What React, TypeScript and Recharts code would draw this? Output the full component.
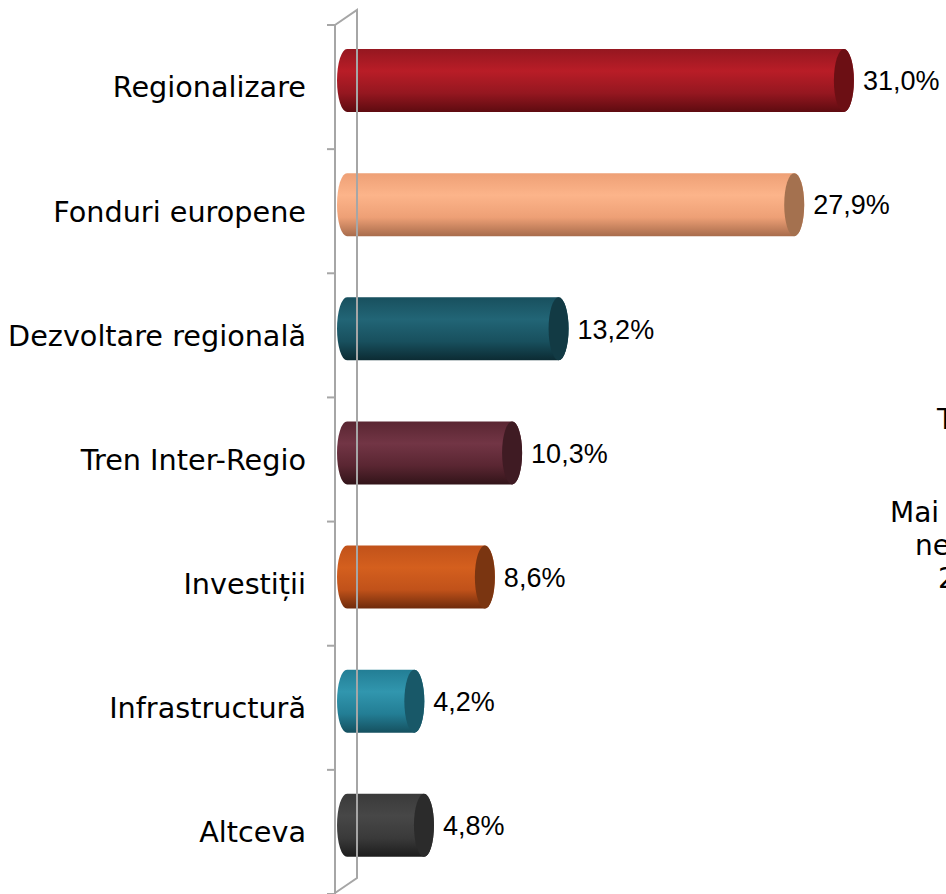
import React from "react";
import { BarChart, Bar, XAxis, YAxis, LabelList } from "recharts";

const categories = [
  "Regionalizare",
  "Fonduri europene",
  "Dezvoltare regională",
  "Tren Inter-Regio",
  "Investiții",
  "Infrastructură",
  "Altceva",
];
const values = [31.0, 27.9, 13.2, 10.3, 8.6, 4.2, 4.8];
const valueLabels = ["31,0%", "27,9%", "13,2%", "10,3%", "8,6%", "4,2%", "4,8%"];

// [top, middle highlight, bottom, end cap]
const palette = [
  ["#951720", "#b91d27", "#5e0b10", "#6c0f14"],
  ["#eea076", "#fcb48a", "#a86c4c", "#a4714f"],
  ["#18505e", "#226576", "#0c2b33", "#123a44"],
  ["#5a2632", "#723545", "#321419", "#3f1b23"],
  ["#c1521a", "#d45f1e", "#6e2b0c", "#7a3511"],
  ["#237e95", "#3196ae", "#15505f", "#185868"],
  ["#3a3a3a", "#474747", "#1d1d1d", "#2b2b2b"],
];

const data = categories.map((name, i) => ({
  name,
  value: values[i],
  label: valueLabels[i],
  idx: i,
}));

const W = 946;
const H = 894;
const TOP = 25;
const AXIS_X = 335;
const STEP = (H - TOP) / categories.length;
const LIFT = 7; // bars sit a bit deeper in the 3d frame
const CAP = 10;

const Cylinder = (props: any) => {
  const { x, y, width, height, payload } = props;
  const i = payload.idx;
  const yy = y - LIFT;
  const w = Math.max(width, 0);
  const ry = height / 2;
  const id = `g${i}`;
  const d = `M${x},${yy} L${x + w},${yy} A${CAP},${ry} 0 0 1 ${x + w},${yy + height} L${x},${yy + height} A${CAP},${ry} 0 0 1 ${x},${yy} Z`;
  return (
    <g>
      <defs>
        <linearGradient id={id} x1="0" y1="0" x2="0" y2="1">
          <stop offset="0%" stopColor={palette[i][0]} />
          <stop offset="35%" stopColor={palette[i][1]} />
          <stop offset="70%" stopColor={palette[i][0]} />
          <stop offset="100%" stopColor={palette[i][2]} />
        </linearGradient>
      </defs>
      <path d={d} fill={`url(#${id})`} />
      <ellipse cx={x + w} cy={yy + ry} rx={CAP} ry={ry} fill={palette[i][3]} />
    </g>
  );
};

const CategoryTick = (props: any) => {
  const { y, payload, index } = props;
  const top = y - STEP / 2;
  return (
    <g>
      <line x1={AXIS_X - 8} x2={AXIS_X} y1={top} y2={top} stroke="#a6a6a6" strokeWidth={2} />
      {index === categories.length - 1 && (
        <line x1={AXIS_X - 8} x2={AXIS_X} y1={top + STEP} y2={top + STEP} stroke="#a6a6a6" strokeWidth={2} />
      )}
      {index === 0 && (
        <g stroke="#a6a6a6" strokeWidth={2} fill="none">
          <polyline points={`${AXIS_X},${TOP} ${AXIS_X + 22},${TOP - 15} ${AXIS_X + 22},${H - 16} ${AXIS_X},${H - 1}`} />
        </g>
      )}
      <text
        x={AXIS_X - 29}
        y={y}
        dy="0.36em"
        textAnchor="end"
        fontFamily="'DejaVu Sans', Verdana, sans-serif"
        fontSize={28.7}
        fill="#000"
      >
        {payload.value}
      </text>
    </g>
  );
};

const ValueLabel = (props: any) => {
  const { x, y, width, height, index } = props;
  return (
    <text
      x={x + width + CAP + 9}
      y={y - LIFT + height / 2}
      dy="0.36em"
      fontFamily="'Liberation Sans', Arial, sans-serif"
      fontSize={27}
      fill="#000"
    >
      {valueLabels[index]}
    </text>
  );
};

const sideText: [string, number, number][] = [
  ["T", 937, 429],
  ["Mai c", 890, 522],
  ["ne", 915, 555],
  ["2", 938, 588],
];

export default function App() {
  return (
    <div
      style={{
        position: "fixed",
        left: 0,
        top: 0,
        width: W,
        height: H,
        overflow: "hidden",
        background: "#fff",
      }}
    >
      <BarChart
        width={W}
        height={H}
        data={data}
        layout="vertical"
        margin={{ top: TOP, right: 38, bottom: 0, left: 0 }}
      >
        <XAxis type="number" domain={[-0.75, 35]} allowDataOverflow hide />
        <YAxis
          type="category"
          dataKey="name"
          width={AXIS_X}
          axisLine={{ stroke: "#a6a6a6", strokeWidth: 2 }}
          tickLine={false}
          tick={<CategoryTick />}
          interval={0}
        />
        <Bar dataKey="value" barSize={63} shape={<Cylinder />} isAnimationActive={false}>
          <LabelList dataKey="label" content={<ValueLabel />} />
        </Bar>
      </BarChart>
      <svg
        width={W}
        height={H}
        style={{ position: "absolute", left: 0, top: 0, pointerEvents: "none" }}
      >
        {sideText.map(([t, x, y]) => (
          <text key={t} x={x} y={y} fontFamily="'DejaVu Sans', Verdana, sans-serif" fontSize={28} fill="#000">
            {t}
          </text>
        ))}
      </svg>
    </div>
  );
}
